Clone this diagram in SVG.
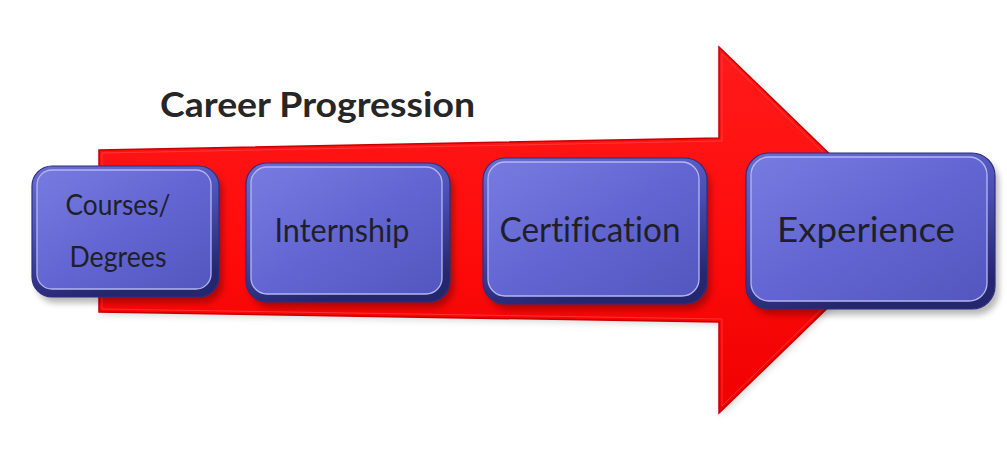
<svg xmlns="http://www.w3.org/2000/svg" width="1007" height="466" viewBox="0 0 1007 466">
<defs>
<linearGradient id="red" x1="0" y1="0" x2="0" y2="1">
<stop offset="0" stop-color="#ff1a1a"/>
<stop offset="0.5" stop-color="#ff0d0d"/>
<stop offset="1" stop-color="#f00000"/>
</linearGradient>
<linearGradient id="rim" x1="0" y1="0" x2="0.3" y2="1">
<stop offset="0" stop-color="#6a6dd0"/>
<stop offset="0.5" stop-color="#4a4db5"/>
<stop offset="1" stop-color="#25276e"/>
</linearGradient>
<linearGradient id="face" x1="0" y1="0" x2="1" y2="1">
<stop offset="0" stop-color="#777be0"/>
<stop offset="0.5" stop-color="#6366d2"/>
<stop offset="1" stop-color="#5256be"/>
</linearGradient>
<filter id="sh" x="-10%" y="-10%" width="130%" height="140%">
<feGaussianBlur stdDeviation="3"/>
</filter>
</defs>
<style>
.shadow{fill:#000;opacity:0.28;filter:url(#sh)}
.rim{fill:url(#rim);stroke:#2d2f80;stroke-width:1.2}
.face{fill:url(#face);stroke:#b4b7f2;stroke-width:1.3}
.lbl{font-family:Lato,"Open Sans","Liberation Sans",sans-serif;fill:#1f1f2a;text-anchor:middle;font-variant-ligatures:none}
.title{font-family:Lato,"Open Sans","Liberation Sans",sans-serif;font-weight:bold;fill:#262626}
</style>
<g id="arrow">
<polygon points="101,153 721,141 721,50 910,233 721,416 721,325 101,315" fill="#999" opacity="0.35" filter="url(#sh)"/>
<polygon points="99,150 719,138 719,47 908,230 719,413 719,322 99,312" fill="url(#red)" stroke="#c80000" stroke-width="1.5" stroke-linejoin="miter"/>
<polygon points="102,153 722,141 722,54 903,230 722,406 722,319 102,309" fill="none" stroke="#ff5050" stroke-width="1" opacity="0.6"/>
</g>
<g id="title">
<text class="title" x="160" y="117" font-size="35" textLength="315" lengthAdjust="spacingAndGlyphs">Career Progression</text>
</g>
<g id="connectors"></g>
<g id="node-courses">
<rect class="shadow" x="36" y="172" width="187" height="131" rx="20"/>
<rect class="rim" x="32" y="166" width="187" height="131" rx="20"/>
<rect class="face" x="37" y="170" width="174" height="119" rx="15"/>
<text class="lbl" x="118" y="215" font-size="29" textLength="105" lengthAdjust="spacingAndGlyphs">Courses/</text>
<text class="lbl" x="118" y="267" font-size="29" textLength="97" lengthAdjust="spacingAndGlyphs">Degrees</text>
</g>
<g id="node-internship">
<rect class="shadow" x="250" y="169" width="204" height="139" rx="21"/>
<rect class="rim" x="246" y="163" width="204" height="139" rx="21"/>
<rect class="face" x="251" y="167" width="191" height="127" rx="16"/>
<text class="lbl" x="342" y="242" font-size="32" textLength="135" lengthAdjust="spacingAndGlyphs">Internship</text>
</g>
<g id="node-certification">
<rect class="shadow" x="487" y="164" width="224" height="146" rx="22"/>
<rect class="rim" x="483" y="158" width="224" height="146" rx="22"/>
<rect class="face" x="488" y="162" width="211" height="134" rx="17"/>
<text class="lbl" x="590" y="242" font-size="35" textLength="181" lengthAdjust="spacingAndGlyphs">Certification</text>
</g>
<g id="node-experience">
<rect class="shadow" x="750" y="159" width="249" height="156" rx="23"/>
<rect class="rim" x="746" y="153" width="249" height="156" rx="23"/>
<rect class="face" x="751" y="157" width="236" height="144" rx="18"/>
<text class="lbl" x="866" y="242" font-size="35" textLength="178" lengthAdjust="spacingAndGlyphs">Experience</text>
</g>
</svg>
